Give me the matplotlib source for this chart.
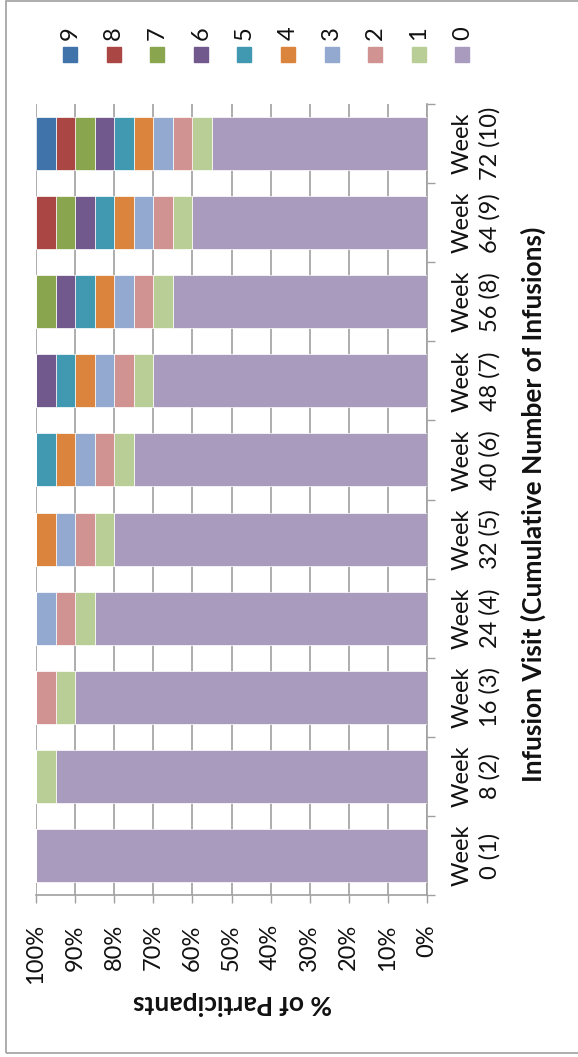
import numpy as np
import matplotlib
matplotlib.use("Agg")
import matplotlib.pyplot as plt
from matplotlib.patches import Rectangle

plt.rcParams['font.family'] = ['Lato', 'DejaVu Sans']

# visits (x categories of the original, drawn rotated)
visits = ["Week\n0 (1)", "Week\n8 (2)", "Week\n16 (3)", "Week\n24 (4)", "Week\n32 (5)",
          "Week\n40 (6)", "Week\n48 (7)", "Week\n56 (8)", "Week\n64 (9)", "Week\n72 (10)"]

# percent of participants per count (series 0..9)
s0 = [100, 95, 90, 85, 80, 75, 70, 65, 60, 55]
s1 = [0, 5, 5, 5, 5, 5, 5, 5, 5, 5]
s2 = [0, 0, 5, 5, 5, 5, 5, 5, 5, 5]
s3 = [0, 0, 0, 5, 5, 5, 5, 5, 5, 5]
s4 = [0, 0, 0, 0, 5, 5, 5, 5, 5, 5]
s5 = [0, 0, 0, 0, 0, 5, 5, 5, 5, 5]
s6 = [0, 0, 0, 0, 0, 0, 5, 5, 5, 5]
s7 = [0, 0, 0, 0, 0, 0, 0, 5, 5, 5]
s8 = [0, 0, 0, 0, 0, 0, 0, 0, 5, 5]
s9 = [0, 0, 0, 0, 0, 0, 0, 0, 0, 5]
series_names = ["0", "1", "2", "3", "4", "5", "6", "7", "8", "9"]
series = [s0, s1, s2, s3, s4, s5, s6, s7, s8, s9]
colors = ["#A99BBD", "#B9CD96", "#D19392", "#93A9CF", "#DB843D",
          "#4099B0", "#71598E", "#89A54E", "#AA4644", "#4073AA"]

W, H = 578, 1057
fig = plt.figure(figsize=(W / 100, H / 100), dpi=100)
gray = "#A0A0A0"
txt = "#111111"
fs = 17

# plot area (px)
x0, x1, yt, yb = 36, 427, 104, 895
ax = fig.add_axes([x0 / W, 1 - yb / H, (x1 - x0) / W, (yb - yt) / H])

pos = np.arange(len(visits))
left = np.zeros(len(visits))
for name, vals, c in zip(series_names, series, colors):
    v = np.array(vals) / 100.0
    ax.barh(pos, v, left=left, height=0.67, color=c, edgecolor="white", linewidth=0.5, zorder=3)
    left += v

ax.set_xlim(1.0, 0.0)
ax.set_ylim(-0.5, len(visits) - 0.5)

ax.set_xticks(np.arange(0, 1.01, 0.1))
ax.set_xticklabels([f"{int(round(t * 100))}%" for t in np.arange(0, 1.01, 0.1)],
                   rotation=90, fontsize=fs, color=txt)
ax.tick_params(axis="x", direction="out", length=6, width=1, color=gray, pad=15)
ax.grid(axis="x", color=gray, linewidth=1.2, zorder=0)

ax.yaxis.tick_right()
ax.set_yticks(np.arange(-0.5, len(visits), 1.0))
ax.set_yticklabels([])
ax.set_yticks(pos, minor=True)
ax.set_yticklabels(visits, minor=True, rotation=90, fontsize=fs, color=txt,
                   va="center", ha="left", multialignment="center", linespacing=1.35)
ax.tick_params(axis="y", which="major", direction="out", length=6, width=1, color=gray)
ax.tick_params(axis="y", which="minor", length=0, pad=18)

for s in ["top", "left"]:
    ax.spines[s].set_visible(False)
for s in ["bottom", "right"]:
    ax.spines[s].set_color(gray)
    ax.spines[s].set_linewidth(1.2)
ax.set_axisbelow(True)

fig.text(533 / W, 1 - 504 / H, "Infusion Visit (Cumulative Number of Infusions)",
         rotation=90, ha="center", va="center", fontsize=19, fontweight="bold", color=txt)
fig.text(232 / W, 1 - 1003 / H, "% of Participants", rotation=180,
         ha="center", va="center", fontsize=19, fontweight="bold", color=txt)

# legend along the top, 9 first
lx = 70
for name, c in zip(series_names[::-1], colors[::-1]):
    fig.add_artist(Rectangle(((lx - 7) / W, 1 - 62 / H), 14 / W, 15 / H,
                             transform=fig.transFigure, color=c))
    fig.text(lx / W, 1 - 40 / H, name, rotation=90, ha="center", va="bottom",
             fontsize=fs, color=txt)
    lx += 43.6

# chart border
fig.add_artist(Rectangle((6 / W, 1 - 1053 / H), 1.2, 1052 / H, transform=fig.transFigure,
                         fill=False, edgecolor=gray, linewidth=1.2))

fig.savefig("out.png", dpi=100)
